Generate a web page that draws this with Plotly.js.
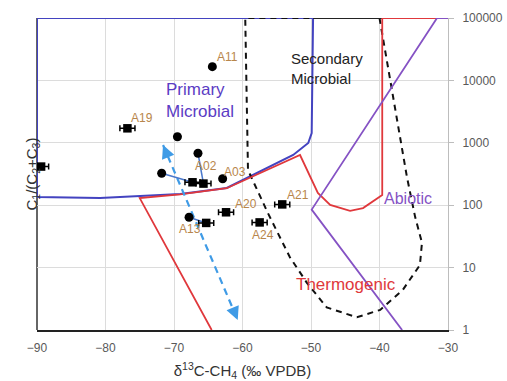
<!DOCTYPE html>
<html>
<head>
<meta charset="utf-8">
<script src="https://cdn.plot.ly/plotly-3.0.1.min.js"></script>
<style>html,body{margin:0;padding:0;background:#fff;}#chart{width:507px;height:381px;}</style>
</head>
<body>
<div id="chart"></div>
<script>
// ---- axis ticks ----
const xTickVals = [-90, -80, -70, -60, -50, -40, -30];
const yTickVals = [1, 10, 100, 1000, 10000, 100000];
const yTickText = ['1', '10', '100', '1000', '10000', '100000'];

// ---- genetic field boundaries ----
const primaryX = [-90, -90, -80.8, -69.1, -62.3, -52.6, -50.4, -49.9, -49.7, -90];
const primaryY = [100000, 135, 130, 151, 189, 637, 993, 1436, 100000, 100000];

const secondaryX = [-40, -36.0, -34.8, -33.8, -34.1, -36.6, -39.9, -43.3, -47.7, -50.6, -53.1, -56.3, -59.2, -59.6, -49.7];
const secondaryY = [100000, 285, 65, 25, 11, 4.4, 2.1, 1.6, 2.3, 5.7, 14.8, 75, 366, 100000, 100000];
const secondaryTopX = [-49.7, -39.6];
const secondaryTopY = [100000, 100000];

const thermoX = [-64.5, -75.0, -69.1, -62.3, -51.6, -49.0, -47.2, -44.3, -42.4, -39.6, -39.6, -31.6];
const thermoY = [1, 130, 149, 187, 637, 157, 101, 81, 90, 146, 100000, 100000];

const abioticX = [-36.7, -49.9, -31.6, -30];
const abioticY = [1, 85, 100000, 100000];

// ---- trend arrow (dashed, double-headed) ----
const arrowX = [-71.6, -60.7];
const arrowY = [922, 1.45];

// ---- samples ----
const circleX = [-64.4, -69.5, -66.5, -71.8, -62.9, -67.8];
const circleY = [16600, 1250, 680, 325, 265, 64];

const squareX = [-89.4, -76.8, -67.3, -65.7, -65.3, -62.4, -57.5, -54.2];
const squareY = [416, 1706, 233, 222, 52, 77, 53, 103];
const squareErr = [1.1, 1.1, 1.1, 1.1, 1.1, 1.1, 1.1, 1.1];

// links circle -> square
const linkX = [[-66.5, -65.7], [-71.8, -67.3], [-67.8, -65.3]];
const linkY = [[680, 222], [325, 233], [64, 52]];

// sample labels and the point each label belongs to
const labelText = ['A11', 'A19', 'A02', 'A03', 'A13', 'A20', 'A24', 'A21'];
const labelX = [-64.4, -76.8, -66.5, -62.9, -67.8, -62.4, -57.5, -54.2];
const labelY = [16600, 1706, 680, 265, 64, 77, 53, 103];
// pixel offsets (style, not data)
const labelShift = [[15, 10], [15, 10], [8, -13], [12, 7], [1, -12], [20, 8], [3, -13], [16, 9]];

// region names
const regionText = ['Primary<br>Microbial', 'Secondary<br>Microbial', 'Thermogenic', 'Abiotic'];
const regionX = [-71.5, -53.2, -44.9, -39.6];
const regionY = [4850, 15250, 5.3, 126];

const cBlue = '#4343c0', cRed = '#e0383c', cPurple = '#8552c4', cArrow = '#3f9be6', cLink = '#4a78cc';
const FONT = 'Liberation Sans, Arial, sans-serif';

const traces = [
  {x: primaryX, y: primaryY, mode: 'lines', line: {color: cBlue, width: 2}, hoverinfo: 'skip'},
  {x: secondaryX, y: secondaryY, mode: 'lines', line: {color: '#111', width: 2, dash: '6px,5px'}, hoverinfo: 'skip'},
  {x: secondaryTopX, y: secondaryTopY, mode: 'lines', line: {color: '#222', width: 2}, hoverinfo: 'skip'},
  {x: thermoX, y: thermoY, mode: 'lines', line: {color: cRed, width: 1.8}, hoverinfo: 'skip'},
  {x: abioticX, y: abioticY, mode: 'lines', line: {color: cPurple, width: 1.8}, hoverinfo: 'skip'},
  {x: arrowX, y: arrowY, mode: 'lines', line: {color: cArrow, width: 2.2, dash: '7px,5px'}, hoverinfo: 'skip'}
];
linkX.forEach((lx, i) => traces.push({x: lx, y: linkY[i], mode: 'lines', line: {color: cLink, width: 1.5}, hoverinfo: 'skip'}));
traces.push({
  x: squareX, y: squareY, mode: 'markers', type: 'scatter',
  marker: {symbol: 'square', size: 8.5, color: '#000'},
  error_x: {type: 'data', array: squareErr, visible: true, color: '#000', thickness: 1.5, width: 3}
});
traces.push({x: circleX, y: circleY, mode: 'markers', marker: {symbol: 'circle', size: 9, color: '#000'}});

const annotations = labelText.map((t, i) => ({
  x: labelX[i], y: Math.log10(labelY[i]), xref: 'x', yref: 'y', text: t, showarrow: false,
  xshift: labelShift[i][0], yshift: labelShift[i][1],
  font: {family: FONT, size: 12, color: '#b8864b'}
}));

const regionStyle = [
  {xanchor: 'left', size: 17, color: '#5b3cc4'},
  {xanchor: 'left', size: 15, color: '#222'},
  {xanchor: 'center', size: 17, color: cRed},
  {xanchor: 'left', size: 16, color: cPurple}
];
regionText.forEach((t, i) => annotations.push({
  x: regionX[i], y: Math.log10(regionY[i]), xref: 'x', yref: 'y', text: t, showarrow: false,
  align: 'left', xanchor: regionStyle[i].xanchor,
  font: {family: FONT, size: regionStyle[i].size, color: regionStyle[i].color}
}));

// y-axis title on the left (tick labels are on the right)
annotations.push({xref: 'paper', yref: 'paper', x: 0, y: 0.5, xshift: -17, textangle: -90, showarrow: false,
  text: 'C<sub>1</sub>/(C<sub>2</sub>+C<sub>3</sub>)', font: {family: FONT, size: 15, color: '#333'}});

// arrowheads at both ends of the dashed trend line
annotations.push(
  {x: arrowX[0], y: Math.log10(arrowY[0]), xref: 'x', yref: 'y', ax: 5, ay: 12, text: '', showarrow: true,
   arrowhead: 2, arrowsize: 1.2, arrowwidth: 2.2, arrowcolor: cArrow, standoff: 0},
  {x: arrowX[1], y: Math.log10(arrowY[1]), xref: 'x', yref: 'y', ax: -5, ay: -12, text: '', showarrow: true,
   arrowhead: 2, arrowsize: 1.2, arrowwidth: 2.2, arrowcolor: cArrow, standoff: 0}
);

const layout = {
  width: 507, height: 381,
  margin: {l: 37, r: 59, t: 18, b: 51},
  paper_bgcolor: '#fff', plot_bgcolor: '#fff',
  showlegend: false,
  font: {family: FONT, color: '#595959'},
  xaxis: {
    range: [-90, -30], tickvals: xTickVals, showgrid: true, gridcolor: '#dcdcdc', gridwidth: 1,
    zeroline: false, showline: true, linecolor: '#222', linewidth: 2, ticks: '',
    ticklabelstandoff: 6, tickfont: {size: 12, color: '#595959'},
    title: {text: 'δ<sup>13</sup>C-CH<sub>4</sub> (‰ VPDB)', standoff: 13, font: {size: 15, color: '#333'}}
  },
  yaxis: {
    type: 'log', range: [0, 5], side: 'right', tickvals: yTickVals, ticktext: yTickText,
    showgrid: true, gridcolor: '#dcdcdc', gridwidth: 1, zeroline: false,
    showline: true, linecolor: '#bdbdbd', linewidth: 1, ticks: 'outside', ticklen: 5, tickcolor: '#bdbdbd',
    ticklabelstandoff: 6, tickfont: {size: 12, color: '#595959'}
  },
  shapes: [
    {type: 'line', xref: 'paper', yref: 'paper', x0: 0, x1: 0, y0: 0, y1: 1, line: {color: '#333', width: 1.5}, layer: 'below'}
  ],
  annotations: annotations
};

Plotly.newPlot('chart', traces, layout, {displayModeBar: false, staticPlot: true});
</script>
</body>
</html>
